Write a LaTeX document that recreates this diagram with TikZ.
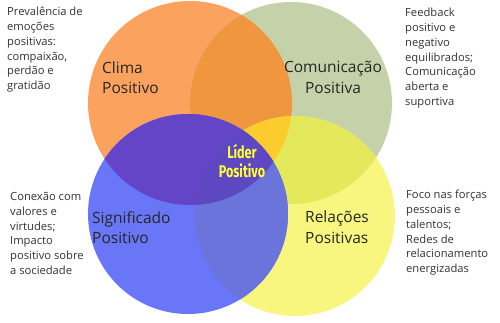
\documentclass[tikz,border=0pt]{standalone}
\usepackage{fontspec}
\setmainfont{Open Sans}
\newfontfamily\condfont[FakeStretch=0.74]{Fira Sans}
\definecolor{cO}{HTML}{FBA25F}
\definecolor{cG}{HTML}{C5D1A9}
\definecolor{cY}{HTML}{F8F67E}
\definecolor{cB}{HTML}{6A76F8}
\definecolor{cOG}{HTML}{EF963F}
\definecolor{cOY}{HTML}{FCCB2D}
\definecolor{cGY}{HTML}{E4E95B}
\definecolor{cBO}{HTML}{6445C8}
\definecolor{cBY}{HTML}{6A74DA}
\definecolor{cBG}{HTML}{6A70D2}
\definecolor{cBOY}{HTML}{5D48C2}
\definecolor{txt}{HTML}{333333}
\definecolor{lider}{HTML}{FFFF33}
\tikzset{
  side/.style={anchor=north west, inner sep=0pt, align=left, text=txt, font=\fontsize{11.2}{14.8}\selectfont},
  circlab/.style={inner sep=0pt, text=black!85, font=\fontsize{15.5}{20.5}\selectfont},
}
\begin{document}
\begin{tikzpicture}[x=1pt,y=-1pt]
\useasboundingbox (0,0) rectangle (500,323);
\fill[white] (0,0) rectangle (500,323);
\def\cO{(190,103) circle[radius=102pt]}
\def\cG{(291,103) circle[radius=101pt]}
\def\cB{(188,214) circle[radius=100pt]}
\def\cY{(295,216) circle[radius=100pt]}
\fill[cO] \cO;
\fill[cG] \cG;
\fill[cY] \cY;
\begin{scope}\clip \cO; \fill[cOG] \cG;\end{scope}
\begin{scope}\clip \cG; \fill[cGY] \cY;\end{scope}
\begin{scope}\clip \cO; \fill[cOY] \cY;\end{scope}
\fill[cB] \cB;
\begin{scope}\clip \cB; \fill[cBG] \cG;\end{scope}
\begin{scope}\clip \cB; \fill[cBY] \cY;\end{scope}
\begin{scope}\clip \cB; \fill[cBO] \cO;\end{scope}
\begin{scope}\clip \cB; \clip \cO; \fill[cBOY] \cY;\end{scope}

\node[circlab, anchor=west, align=left] (clima) at (102,77.5) {Clima\\Positivo};
\node[circlab, align=center] (comun) at (333,77.5) {Comunicação\\Positiva};
\node[circlab, anchor=west, align=left] (signif) at (92,227.5) {Significado\\Positivo};
\node[circlab, anchor=west, align=left] (relac) at (305,227) {Relações\\Positivas};
\node[inner sep=0pt, align=center, text=lider, font=\condfont\bfseries\fontsize{17}{18.5}\selectfont] (lider) at (242,161) {Líder\\Positivo};

\node[side] (tl) at (7,7) {Prevalência de\\emoções\\positivas:\\compaixão,\\perdão e\\gratidão};
\node[side] (tr) at (405,8) {Feedback\\positivo e\\negativo\\equilibrados;\\Comunicação\\aberta e\\suportiva};
\node[side] (bl) at (10,192) {Conexão com\\valores e\\virtudes;\\Impacto\\positivo sobre\\a sociedade};
\node[side] (br) at (406,190) {Foco nas forças\\pessoais e\\talentos;\\Redes de\\relacionamento\\energizadas};
\end{tikzpicture}
\end{document}
